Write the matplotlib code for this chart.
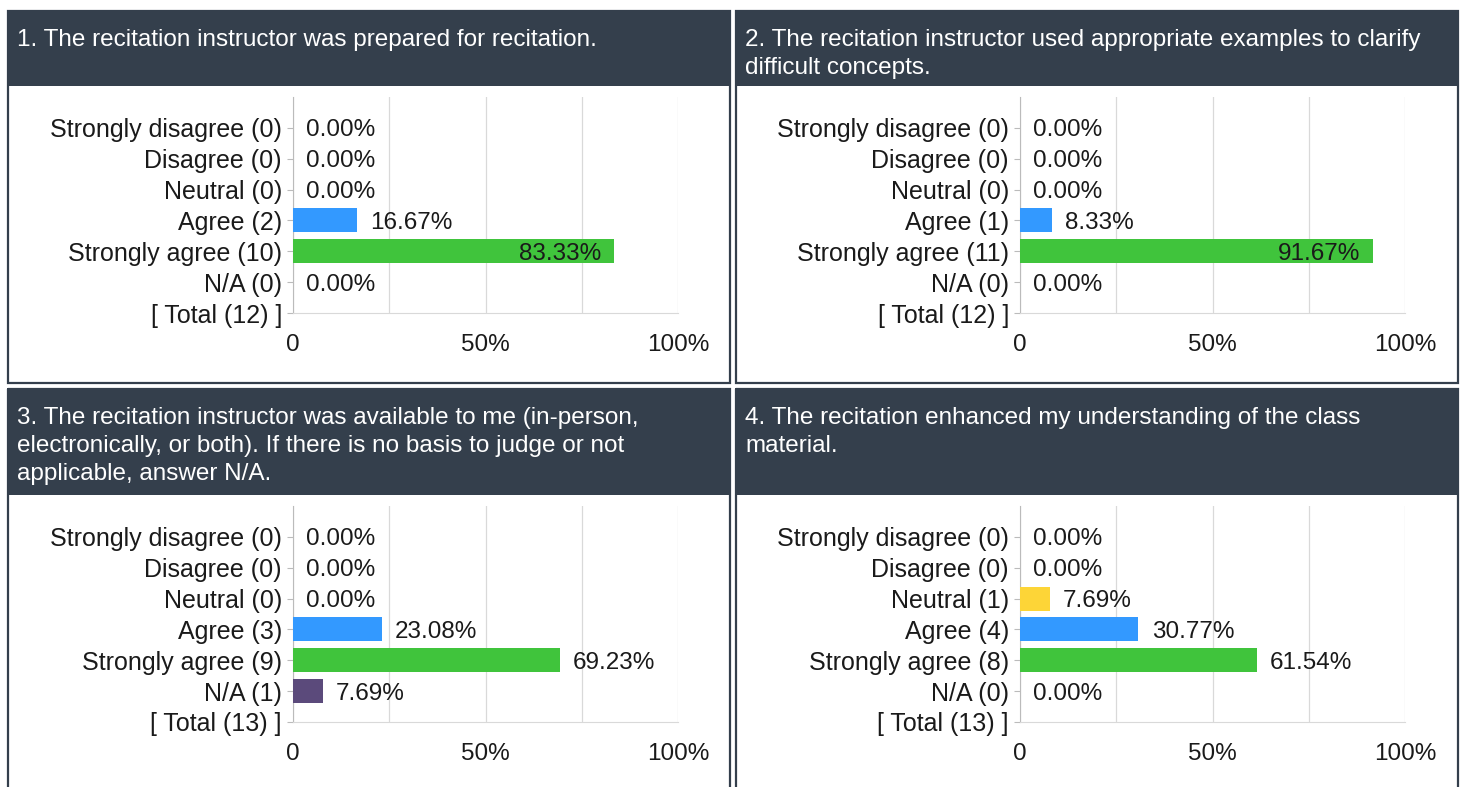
import numpy as np
import matplotlib
matplotlib.use("Agg")
import matplotlib.pyplot as plt
from matplotlib.patches import Rectangle

plt.rcParams['font.family'] = ['Liberation Sans', 'DejaVu Sans']

# survey data
answers = ["Strongly disagree", "Disagree", "Neutral", "Agree", "Strongly agree", "N/A"]
answer_colors = ["#e0443a", "#f39a2b", "#fdd537", "#3399ff", "#40c43c", "#5b4a7b"]

questions = [
    "1. The recitation instructor was prepared for recitation.",
    "2. The recitation instructor used appropriate examples to clarify\ndifficult concepts.",
    "3. The recitation instructor was available to me (in-person,\nelectronically, or both). If there is no basis to judge or not\napplicable, answer N/A.",
    "4. The recitation enhanced my understanding of the class\nmaterial.",
]

q1_counts = [0, 0, 0, 2, 10, 0]
q2_counts = [0, 0, 0, 1, 11, 0]
q3_counts = [0, 0, 0, 3, 9, 1]
q4_counts = [0, 0, 1, 4, 8, 0]
all_counts = [q1_counts, q2_counts, q3_counts, q4_counts]

x_ticks = [0, 50, 100]
x_tick_labels = ["0", "50%", "100%"]

DARK = "#343f4c"
GRID = "#d9d9d9"
TEXT = "#1a1a1a"
W, H = 1465, 787

fig = plt.figure(figsize=(W / 100, H / 100), dpi=100)

# background layer in pixel coords for the panel boxes and headers
bg = fig.add_axes([0, 0, 1, 1])
bg.set_xlim(0, W)
bg.set_ylim(H, 0)
bg.axis('off')


def px_axes(x0, y0, x1, y1):
    return fig.add_axes([x0 / W, 1 - y1 / H, (x1 - x0) / W, (y1 - y0) / H])


for i, (title, counts) in enumerate(zip(questions, all_counts)):
    c, r = i % 2, i // 2
    px = 728 * c
    top = 10 + 378 * r
    hdr_h = 76 if r == 0 else 107
    box_bottom = 383 if r == 0 else 800

    # panel border + header
    bg.add_patch(Rectangle((8 + px, top + 1), 722, box_bottom - top - 1,
                           fill=False, ec=DARK, lw=1.6))
    bg.add_patch(Rectangle((7 + px, top), 724, hdr_h, fc=DARK, ec='none'))
    bg.text(17 + px, top + 19, title, color='white', fontsize=17.5,
            va='top', ha='left', linespacing=1.34)

    total = sum(counts)
    pct = [100.0 * n / total for n in counts]
    labels = [f"{a} ({n})" for a, n in zip(answers, counts)] + [f"[ Total ({total}) ]"]

    ax_top = top + hdr_h + 11
    ax = px_axes(293 + 727 * c, ax_top, 678 + 727 * c, ax_top + 216)
    ypos = np.arange(len(answers))
    ax.barh(ypos, pct, height=0.78, color=answer_colors, edgecolor='none', zorder=3)

    for y, p in zip(ypos, pct):
        txt = f"{p:.2f}%"
        if p > 75:
            ax.annotate(txt, (p, y), xytext=(-9, 0), textcoords='offset points',
                        ha='right', va='center_baseline', fontsize=17.5, color=TEXT, zorder=4)
        else:
            ax.annotate(txt, (p, y), xytext=(9.5, 0), textcoords='offset points',
                        ha='left', va='center_baseline', fontsize=17.5, color=TEXT, zorder=4)

    ax.set_xlim(0, 100)
    ax.set_ylim(len(answers), -1)
    ax.set_yticks(np.arange(len(labels)))
    ax.set_yticklabels(labels, fontsize=18, color=TEXT)
    ax.set_xticks(x_ticks)
    ax.set_xticklabels(x_tick_labels, fontsize=17.5, color=TEXT)
    ax.set_xticks([25, 75], minor=True)
    ax.tick_params(axis='x', which='both', length=0, pad=15)
    ax.tick_params(axis='y', length=4, width=0.8, color='#bbbbbb', pad=4)
    ax.grid(axis='x', which='both', color=GRID, lw=0.9, zorder=0)
    for s in ['top', 'right']:
        ax.spines[s].set_visible(False)
    ax.spines['left'].set_color('#bbbbbb')
    ax.spines['bottom'].set_color(GRID)
    ax.set_facecolor('none')

fig.savefig("out.png", dpi=100)
